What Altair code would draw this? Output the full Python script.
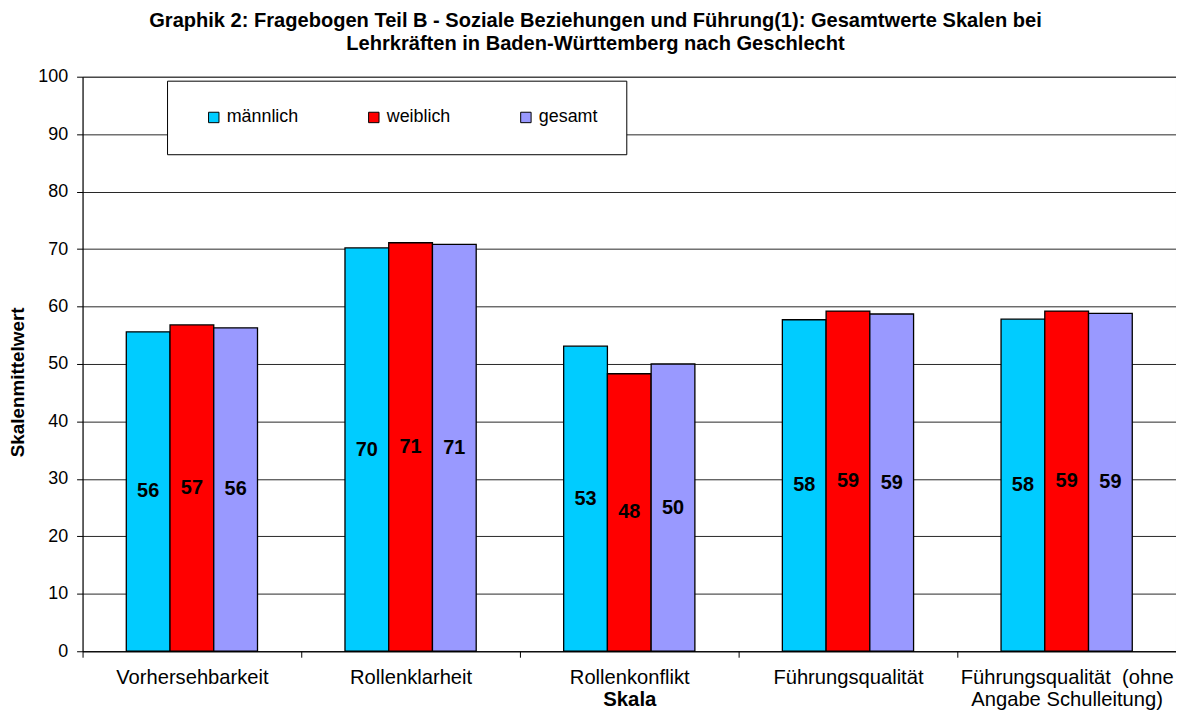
import altair as alt
import pandas as pd

categories = ["Vorhersehbarkeit", "Rollenklarheit", "Rollenkonflikt", "Führungsqualität",
              "Führungsqualität  (ohne Angabe Schulleitung)"]
groups = ["männlich", "weiblich", "gesamt"]
maennlich = [55.6, 70.2, 53.1, 57.7, 57.8]
weiblich = [56.8, 71.1, 48.3, 59.2, 59.2]
gesamt = [56.3, 70.8, 50.0, 58.7, 58.8]
colors = ["#00CCFF", "#FF0000", "#9999FF"]

rows = []
for i, c in enumerate(categories):
    for g, vals in zip(groups, [maennlich, weiblich, gesamt]):
        rows.append({"Skala": c, "Gruppe": g, "Wert": vals[i]})
df = pd.DataFrame(rows)

FONT = "Liberation Sans"
NB = "\u00a0"
label_expr = ("datum.label == 'Führungsqualität  (ohne Angabe Schulleitung)' ? "
              "['Führungsqualität" + NB + " (ohne', 'Angabe Schulleitung)'] : datum.label")

x = alt.X("Skala:N", sort=categories, title="Skala",
          scale=alt.Scale(paddingInner=0, paddingOuter=0),
          axis=alt.Axis(tickBand="extent", labelAngle=0, labelFontSize=20.3, labelFont=FONT,
                        labelColor="black", tickColor="black", domainColor="black",
                        tickSize=6, labelPadding=10, labelLineHeight=23, labelLimit=400,
                        titleFontSize=20.5, titleFont=FONT, titleFontWeight="bold",
                        titleColor="black", titleY=55, titleBaseline="alphabetic",
                        labelExpr=label_expr))
xo = alt.XOffset("Gruppe:N", sort=groups,
                 scale=alt.Scale(paddingOuter=alt.ExprRef("1.16"), paddingInner=0))

bars = alt.Chart(df).mark_bar(stroke="black", strokeWidth=1.3).encode(
    x=x,
    xOffset=xo,
    y=alt.Y("Wert:Q", title="Skalenmittelwert",
            scale=alt.Scale(domain=[0, 100], nice=False),
            axis=alt.Axis(values=list(range(0, 101, 10)), labelFontSize=18, labelFont=FONT,
                          labelColor="black", tickColor="black", domainColor="black",
                          gridColor="black", gridOpacity=0.85, tickSize=6, labelPadding=9,
                          titleFontSize=19, titleFont=FONT, titleFontWeight="bold",
                          titleColor="black", titleX=-65, titleY=307, titleAngle=270,
                          titleAlign="center", titleBaseline="middle")),
    color=alt.Color("Gruppe:N", sort=groups, scale=alt.Scale(domain=groups, range=colors),
                    legend=alt.Legend(title=None, orient="none", legendX=85, legendY=4,
                                      direction="horizontal", symbolType="square",
                                      symbolSize=110, symbolStrokeColor="black",
                                      symbolStrokeWidth=1, symbolOpacity=1,
                                      labelFontSize=18, labelFont=FONT, labelColor="black",
                                      labelOffset=4, columnPadding=56, padding=28,
                                      symbolOffset=10,
                                      strokeColor="black", fillColor="white")),
)

labels = alt.Chart(df).transform_calculate(
    mid="datum.Wert / 2", lab="format(datum.Wert, '.0f')"
).mark_text(fontSize=20, fontWeight="bold", font=FONT, color="black", baseline="middle").encode(
    x=alt.X("Skala:N", sort=categories),
    xOffset=alt.XOffset("Gruppe:N", sort=groups),
    y=alt.Y("mid:Q"),
    text="lab:N",
)

chart = alt.layer(bars, labels).properties(
    width=1100, height=578,
    autosize=alt.AutoSizeParams(type="none"),
    padding={"left": 75, "top": 67, "right": 0, "bottom": 60},
    title=alt.Title(["Graphik 2: Fragebogen Teil B - Soziale Beziehungen und Führung(1): Gesamtwerte Skalen bei",
                     "Lehrkräften in Baden-Württemberg nach Geschlecht"],
                    anchor="middle", dx=-34, fontSize=20.2, font=FONT, fontWeight="bold",
                    color="black", offset=14, lineHeight=23),
).configure_view(stroke="#888888")

chart.save("out.html", embed_options={"renderer": "svg", "actions": False})
